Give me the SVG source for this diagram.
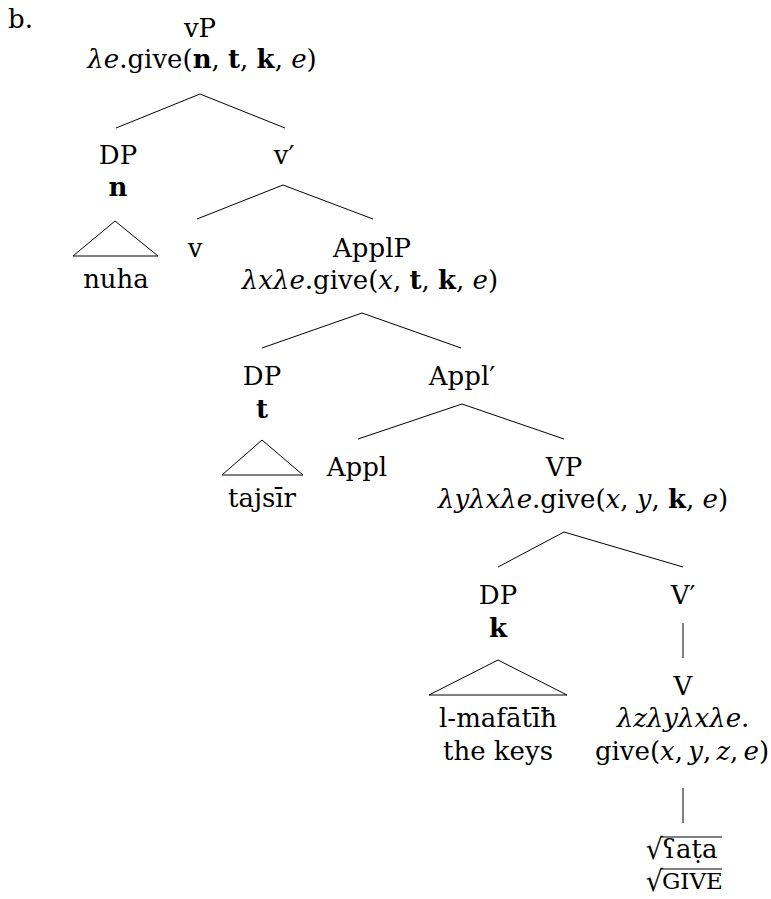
<svg xmlns="http://www.w3.org/2000/svg" width="771" height="899" viewBox="0 0 771 899">
  <style>
    text { font-family: "DejaVu Serif", "Liberation Serif", serif; font-size: 26px; fill: #000; text-anchor: middle; }
    .i { font-style: italic; }
    .b { font-weight: bold; }
    .edge { stroke: #000; stroke-width: 1; fill: none; }
    .sc { font-size: 23px; }
    .rad { font-size: 36px; text-anchor: end; }
    .st { text-anchor: start; }
  </style>
  <rect width="771" height="899" fill="#fff"/>

  <text x="8" y="28" class="st">b.</text>

  <!-- branches between mother and daughter labels -->
  <g id="connectors">
    <path class="edge" d="M200,94 L116,128 M200,94 L285,128"/>
    <path class="edge" d="M283,185 L197,219 M283,185 L373,219"/>
    <path class="edge" d="M362,313 L262,348 M362,313 L461,348"/>
    <path class="edge" d="M462,404 L358,439 M462,404 L564,439"/>
    <path class="edge" d="M564,532 L498,567 M564,532 L683,567"/>
    <path class="edge" d="M683,623 L683,658"/>
    <path class="edge" d="M683,788 L683,823"/>
  </g>

  <g id="vP">
    <text x="200" y="37">vP</text>
    <text x="202" y="68"><tspan class="i">λe</tspan>.give(<tspan class="b">n</tspan>, <tspan class="b">t</tspan>, <tspan class="b">k</tspan>, <tspan class="i">e</tspan>)</text>
  </g>

  <g id="DP-n">
    <text x="118" y="164">DP</text>
    <text x="118" y="196" class="b">n</text>
    <path class="edge" d="M115,221 L73,256 L158,256 Z"/>
    <text x="116" y="288">nuha</text>
  </g>

  <g id="v-bar">
    <text x="284" y="164">v′</text>
  </g>

  <g id="v">
    <text x="195" y="257">v</text>
  </g>

  <g id="ApplP">
    <text x="372" y="257">ApplP</text>
    <text x="370" y="289"><tspan class="i">λxλe</tspan>.give(<tspan class="i">x</tspan>, <tspan class="b">t</tspan>, <tspan class="b">k</tspan>, <tspan class="i">e</tspan>)</text>
  </g>

  <g id="DP-t">
    <text x="262" y="385">DP</text>
    <text x="262" y="418" class="b">t</text>
    <path class="edge" d="M262,440 L222,475 L303,475 Z"/>
    <text x="262" y="507">tajsīr</text>
  </g>

  <g id="Appl-bar">
    <text x="462" y="385">Appl′</text>
  </g>

  <g id="Appl">
    <text x="357" y="476">Appl</text>
  </g>

  <g id="VP">
    <text x="564" y="476">VP</text>
    <text x="583" y="508"><tspan class="i">λyλxλe</tspan>.give(<tspan class="i">x</tspan>, <tspan class="i">y</tspan>, <tspan class="b">k</tspan>, <tspan class="i">e</tspan>)</text>
  </g>

  <g id="DP-k">
    <text x="498" y="604">DP</text>
    <text x="498" y="637" class="b">k</text>
    <path class="edge" d="M498,660 L429,695 L567,695 Z"/>
    <text x="498" y="727">l-mafātīħ</text>
    <text x="498" y="760">the keys</text>
  </g>

  <g id="V-bar">
    <text x="683" y="604">V′</text>
  </g>

  <g id="V">
    <text x="683" y="695">V</text>
    <text x="683" y="727" class="i">λzλyλxλe<tspan font-style="normal">.</tspan></text>
    <text x="682" y="760">give(<tspan class="i">x</tspan>,&#8201;<tspan class="i">y</tspan>,&#8201;<tspan class="i">z</tspan>,&#8201;<tspan class="i">e</tspan>)</text>
  </g>

  <!-- root forms: radical sign, then an overbar across the root -->
  <g id="root">
    <text class="rad" transform="translate(663,859) scale(0.75,0.8)">√</text>
    <text x="662" y="858" class="st">ʕaṭa</text>
    <line class="edge" x1="661" y1="837" x2="722" y2="837"/>
    <text class="rad" transform="translate(663,891) scale(0.75,0.8)">√</text>
    <text x="662" y="889" class="sc st">GIVE</text>
    <line class="edge" x1="661" y1="869" x2="722" y2="869"/>
  </g>
</svg>
